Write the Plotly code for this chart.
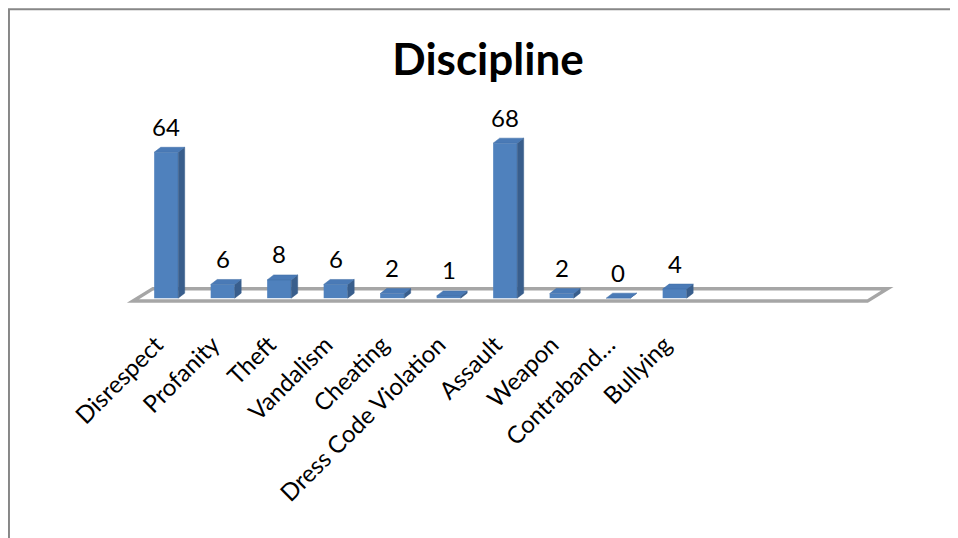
import plotly.graph_objects as go

# ---- data ----
categories = ["Disrespect", "Profanity", "Theft", "Vandalism", "Cheating",
              "Dress Code Violation", "Assault", "Weapon", "Contraband…", "Bullying"]
values = [64, 6, 8, 6, 2, 1, 68, 2, 0, 4]
title_text = "Discipline"

# ---- geometry / style (pixels, figure coordinates; page adds 8px body margin) ----
W, H = 958, 538
OFF = 8
SHIFT = 5              # bars sit slightly behind the floor front edge
SX = 56.5              # px per category
SY = 2.28              # px per value unit
XMIN, XMAX = -0.8, 12.9
YMIN, YMAX = -3, 90
X0PX = 133 + SHIFT - OFF            # pixel of x = -0.5
PX_LEFT = X0PX - (-0.5 - XMIN) * SX # pixel of XMIN
Y0PX = 298 - OFF                    # pixel of value 0

plot_w = (XMAX - XMIN) * SX
plot_top = Y0PX - YMAX * SY
plot_bot = Y0PX - YMIN * SY
plot_h = plot_bot - plot_top

FRONT = "#4F81BD"
SIDE = "#395E8C"
TOP = "#4A7AB6"
FLOOR = "#A6A6A6"
FONT = "Lato"

hw = 0.425 / 2              # half bar width (category units)
bdx = 6.5 / SX              # bar depth offset x
bdy = 5.0 / SY              # bar depth offset y
fdx = 20 / SX               # floor depth offset x
fdy = 12.5 / SY             # floor depth offset y
ffront = -1.3               # floor front edge (value units)
fshift = SHIFT / SX

xs = list(range(len(categories)))

fig = go.Figure()

# front faces
fig.add_trace(go.Bar(x=xs, y=values, width=2 * hw, marker=dict(color=FRONT, line=dict(width=0)),
                     hoverinfo="skip", showlegend=False))

# side faces and top faces computed from data
sx_, sy_, tx_, ty_ = [], [], [], []
for i, v in zip(xs, values):
    sx_ += [i + hw, i + hw + bdx, i + hw + bdx, i + hw, i + hw, None]
    sy_ += [0, bdy, v + bdy, v, 0, None]
    tx_ += [i - hw, i + hw, i + hw + bdx, i - hw + bdx, i - hw, None]
    ty_ += [v, v, v + bdy, v + bdy, v, None]
fig.add_trace(go.Scatter(x=sx_, y=sy_, mode="lines", fill="toself", fillcolor=SIDE,
                         line=dict(width=0.5, color=SIDE), hoverinfo="skip", showlegend=False))
fig.add_trace(go.Scatter(x=tx_, y=ty_, mode="lines", fill="toself", fillcolor=TOP,
                         line=dict(width=0.5, color="#3F6CA5"), hoverinfo="skip", showlegend=False))

# value labels
for i, v in zip(xs, values):
    fig.add_annotation(x=i, y=v + bdy, text=str(v), showarrow=False, yanchor="middle",
                       yshift=21, font=dict(family=FONT, size=24, color="black"))

# floor (below traces)
fx0, fx1 = -0.5 - fshift, 12.5 - fshift
path = (f"M {fx0},{ffront} L {fx1},{ffront} L {fx1 + fdx},{ffront + fdy} "
        f"L {fx0 + fdx},{ffront + fdy} Z")
fig.add_shape(type="path", path=path, xref="x", yref="y", layer="below",
              line=dict(color=FLOOR, width=3.5), fillcolor="white")

# chart border (left and top edges visible)
fig.add_shape(type="rect", xref="paper", yref="paper",
              x0=(1 - PX_LEFT) / plot_w, x1=2.0,
              y0=-2.0, y1=(plot_bot - 1) / plot_h,
              line=dict(color="#878787", width=2), layer="below")

fig.update_layout(
    width=W, height=H,
    margin=dict(l=PX_LEFT, r=W - PX_LEFT - plot_w, t=plot_top, b=H - plot_bot, pad=0),
    paper_bgcolor="white", plot_bgcolor="rgba(0,0,0,0)",
    title=dict(text=f"<b>{title_text}</b>", x=(488 - OFF) / W, xanchor="center", xref="container",
               y=1 - (60 - OFF) / H, yanchor="middle", yref="container",
               font=dict(family=FONT, size=44, color="black")),
    xaxis=dict(range=[XMIN, XMAX], tickvals=xs, ticktext=categories, tickangle=-45,
               ticks="", ticklabelstandoff=20, ticklabelshift=-10,
               showgrid=False, zeroline=False, showline=False,
               tickfont=dict(family=FONT, size=24, color="black")),
    yaxis=dict(range=[YMIN, YMAX], visible=False),
    showlegend=False,
)

fig.write_html("out.html")
